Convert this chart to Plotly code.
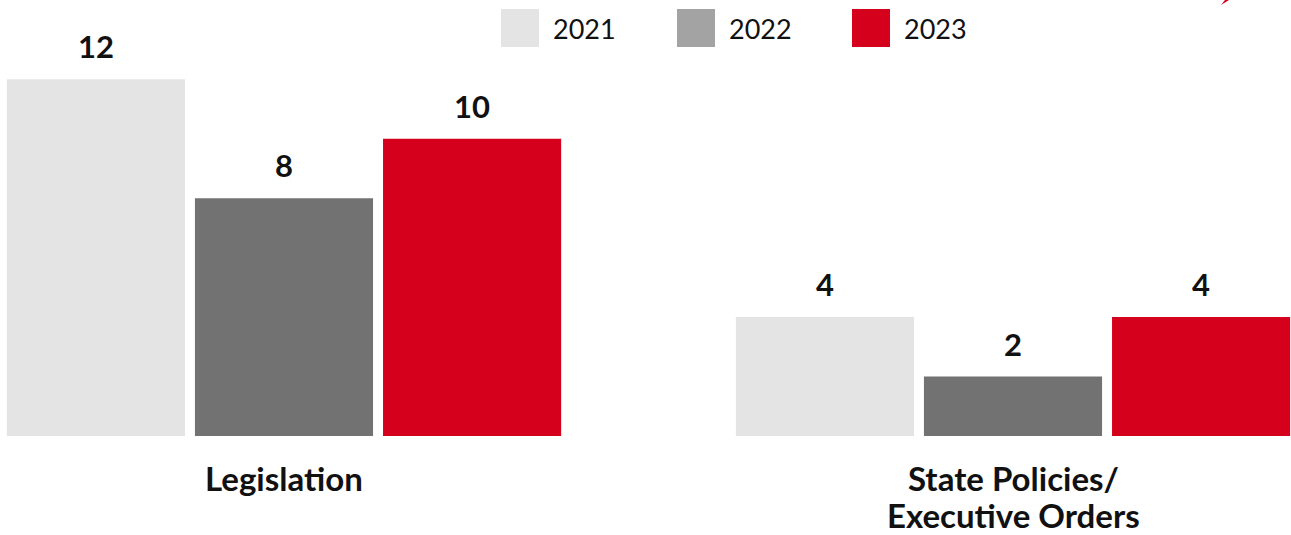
import plotly.graph_objects as go

# Counts by category and year
categories = ["Legislation", "State Policies/<br>Executive Orders"]
years = ["2021", "2022", "2023"]
values_2021 = [12, 4]
values_2022 = [8, 2]
values_2023 = [10, 4]

bar_colors = {"2021": "#e4e4e4", "2022": "#717271", "2023": "#d5001c"}
legend_colors = {"2021": "#e4e4e4", "2022": "#a3a3a3", "2023": "#d5001c"}
series = {"2021": values_2021, "2022": values_2022, "2023": values_2023}

W, H = 1291, 535
BASE = 436          # pixel row of the bar baseline
BARGAP = 0.226
GROUPGAP = 0.053

fig = go.Figure()
xs = list(range(len(categories)))
for yr in years:
    fig.add_trace(go.Bar(
        x=xs, y=series[yr], name=yr,
        marker=dict(color=bar_colors[yr], line=dict(width=0)),
        showlegend=False, hoverinfo="skip",
    ))

# value labels above each bar
slot = (1 - BARGAP) / len(years)
annotations = []
for j, yr in enumerate(years):
    for i, v in enumerate(series[yr]):
        annotations.append(dict(
            x=i + (j - 1) * slot, y=v, xref="x", yref="y",
            text=f"<b>{v}</b>", showarrow=False,
            yanchor="bottom", yshift=12,
            font=dict(family="Lato", size=31, color="#111111", weight=900),
        ))

# category labels under the groups, one annotation per line
for i, c in enumerate(categories):
    for k, line in enumerate(c.split("<br>")):
        annotations.append(dict(
            x=i, y=0, xref="x", yref="paper", text=f"<b>{line}</b>",
            showarrow=False, yanchor="middle", yshift=-42 - 37 * k,
            borderpad=0,
            font=dict(family="Lato", size=33, color="#111111"),
        ))

# legend: swatches and year labels along the top
shapes = []
sw_left = [501, 677, 852]
for k, yr in enumerate(years):
    x0 = sw_left[k]
    shapes.append(dict(
        type="rect", xref="paper", yref="paper",
        x0=x0 / W, x1=(x0 + 38) / W,
        y0=(BASE - 47) / BASE, y1=(BASE - 9) / BASE,
        fillcolor=legend_colors[yr], line=dict(width=0), layer="above",
    ))
    annotations.append(dict(
        x=(x0 + 50) / W, y=(BASE - 29) / BASE, xref="paper", yref="paper",
        text=yr, showarrow=False, xanchor="left", yanchor="middle",
        font=dict(family="Lato", size=27, color="#111111", weight=400),
    ))

# small red accent at the top edge
def px(xp, yp):
    return f"{xp / W:.5f},{(BASE - yp) / BASE:.5f}"

shapes.append(dict(
    type="path", xref="paper", yref="paper",
    path=f"M {px(1221, 5)} L {px(1229, 0)} L {px(1225, 0)} Z",
    fillcolor="#d5001c", line=dict(width=0),
))

fig.update_layout(
    width=W, height=H,
    margin=dict(l=0, r=0, t=0, b=H - BASE),
    barmode="group", bargap=BARGAP, bargroupgap=GROUPGAP,
    plot_bgcolor="white", paper_bgcolor="white",
    xaxis=dict(range=[-284 / 729, (W - 284) / 729], visible=False, fixedrange=True),
    yaxis=dict(range=[0, BASE / 29.72], visible=False, fixedrange=True),
    annotations=annotations, shapes=shapes,
)

fig.write_html("out.html", config={"displayModeBar": False})
